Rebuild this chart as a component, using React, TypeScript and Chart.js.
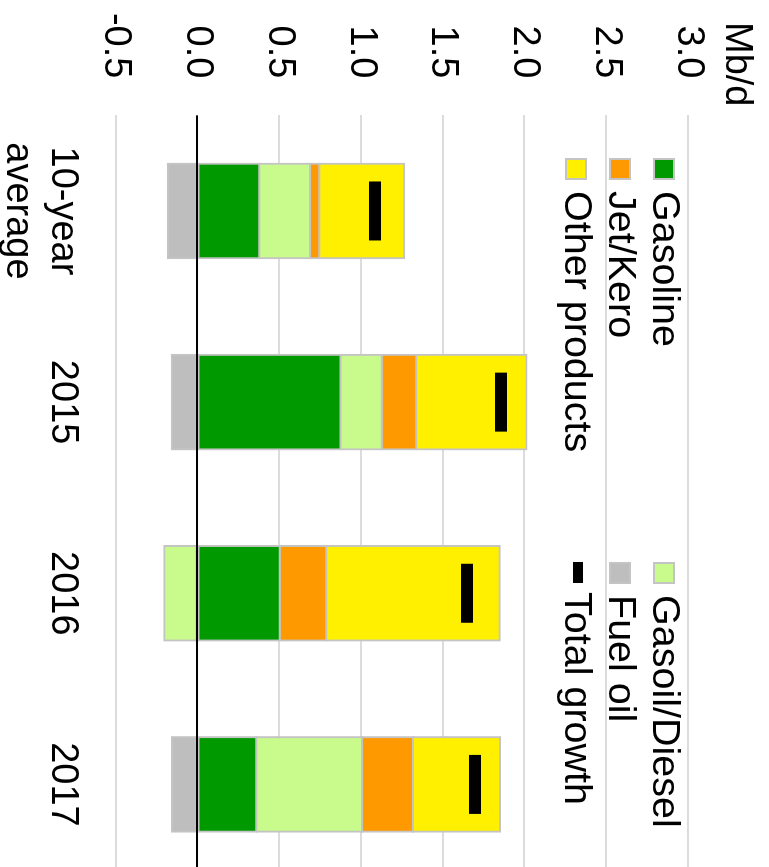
import React, { useEffect, useRef } from 'react';
import { Chart, registerables } from 'chart.js';

Chart.register(...registerables);

// ---- data ----
const categories: (string | string[])[] = [['10-year', 'average'], '2015', '2016', '2017'];
const gasoline = [0.378, 0.875, 0.503, 0.36];
const gasoilDiesel = [0.31, 0.252, -0.203, 0.646];
const jetKero = [0.057, 0.211, 0.285, 0.312];
const otherProducts = [0.52, 0.674, 1.06, 0.532];
const fuelOil = [-0.182, -0.158, null, -0.156];
const totalGrowth = [1.086, 1.856, 1.648, 1.697];
const yTicks = [-0.5, 0, 0.5, 1, 1.5, 2, 2.5, 3];
const unitLabel = 'Mb/d';
const legendRows = [
  ['Gasoline', 'Gasoil/Diesel'],
  ['Jet/Kero', 'Fuel oil'],
  ['Other products', 'Total growth'],
];

// ---- styling ----
const W = 890; // unrotated canvas width (clipped by the window)
const H = 769; // unrotated canvas height
const FONT = "'Liberation Sans', Arial, Helvetica, sans-serif";
const FS = 38;
const LFS = 39.5;
const BORDER = '#c4c4c4';
const GRID = '#dcdcdc';
const colors: Record<string, string> = {
  'Gasoline': '#009900',
  'Gasoil/Diesel': '#c8fa8c',
  'Jet/Kero': '#ff9900',
  'Other products': '#fff000',
  'Fuel oil': '#bebebe',
  'Total growth': '#000000',
};

const overlayPlugin = {
  id: 'overlay',
  afterDatasetsDraw(chart: any) {
    const { ctx, chartArea, scales } = chart;
    const y0 = Math.round(scales.y.getPixelForValue(0));
    ctx.save();
    ctx.strokeStyle = '#000';
    ctx.lineWidth = 2;
    ctx.beginPath();
    ctx.moveTo(chartArea.left, y0);
    ctx.lineTo(chartArea.right, y0);
    ctx.stroke();
    ctx.restore();
  },
  afterDraw(chart: any) {
    const { ctx } = chart;
    ctx.save();
    ctx.fillStyle = '#000';
    ctx.textBaseline = 'alphabetic';
    ctx.textAlign = 'left';
    // unit label
    ctx.font = `${FS}px ${FONT}`;
    ctx.fillText(unitLabel, 22, 43);
    // legend
    ctx.font = `${LFS}px ${FONT}`;
    const colX = [158, 562];
    const baselines = [116, 160, 204];
    legendRows.forEach((row, r) => {
      row.forEach((name, c) => {
        const bx = colX[c];
        const by = baselines[r];
        if (name === 'Total growth') {
          ctx.fillStyle = '#000';
          ctx.fillRect(bx, by - 18, 21, 10);
        } else {
          ctx.fillStyle = colors[name];
          ctx.fillRect(bx, by - 22, 22, 22);
          ctx.strokeStyle = BORDER;
          ctx.lineWidth = 2;
          ctx.strokeRect(bx + 1, by - 21, 20, 20);
        }
        ctx.fillStyle = '#000';
        ctx.fillText(name, bx + (name === 'Total growth' ? 30 : 33), by);
      });
    });
    ctx.restore();
  },
};

export default function App() {
  const ref = useRef<HTMLCanvasElement | null>(null);

  useEffect(() => {
    if (!ref.current) return;
    const bar = (label: string, data: (number | null)[]) => ({
      type: 'bar' as const,
      label,
      data,
      backgroundColor: colors[label],
      borderColor: BORDER,
      borderWidth: 2,
      borderSkipped: false,
      inflateAmount: 1,
      barPercentage: 0.495,
      categoryPercentage: 1,
      order: 1,
    });
    const chart = new Chart(ref.current, {
      type: 'bar',
      data: {
        labels: categories,
        datasets: [
          bar('Gasoline', gasoline),
          bar('Gasoil/Diesel', gasoilDiesel),
          bar('Jet/Kero', jetKero),
          bar('Other products', otherProducts),
          bar('Fuel oil', fuelOil),
          {
            type: 'line',
            label: 'Total growth',
            data: totalGrowth,
            showLine: false,
            pointStyle: 'line',
            pointRadius: 29.5,
            pointHoverRadius: 29.5,
            pointBorderWidth: 12,
            pointBorderColor: '#000',
            borderColor: '#000',
            backgroundColor: '#000',
            stack: 'total',
            order: 0,
          } as any,
        ],
      },
      options: {
        responsive: false,
        animation: false,
        events: [],
        layout: { autoPadding: false, padding: { top: 81, left: 0, right: 10, bottom: 0 } },
        plugins: {
          legend: { display: false },
          tooltip: { enabled: false },
          title: { display: false },
        },
        scales: {
          x: {
            stacked: true,
            offset: true,
            grid: { display: false },
            border: { display: false },
            ticks: {
              color: '#000',
              font: { family: FONT, size: FS },
              padding: 22,
              maxRotation: 0,
              minRotation: 0,
              autoSkip: false,
            },
            afterFit: (s: any) => {
              s.height = 115.75;
              s.paddingLeft = 0;
              s.paddingRight = 0;
            },
          },
          y: {
            stacked: true,
            min: -0.5,
            max: 3,
            afterBuildTicks: (s: any) => {
              s.ticks = yTicks.map((v) => ({ value: v }));
            },
            ticks: {
              color: '#000',
              font: { family: FONT, size: FS },
              padding: 37,
              callback: (v: any) => Number(v).toFixed(1),
            },
            grid: { color: GRID, lineWidth: 2, drawTicks: false },
            border: { display: false },
            afterFit: (s: any) => {
              s.width = 115.4;
              s.paddingTop = 0;
              s.paddingBottom = 0;
            },
          },
        },
      } as any,
      plugins: [overlayPlugin],
    });
    return () => chart.destroy();
  }, []);

  return (
    <div
      style={{
        position: 'fixed',
        left: 0,
        top: 0,
        width: 769,
        height: 867,
        overflow: 'hidden',
        background: '#fff',
      }}
    >
      <div
        style={{
          position: 'absolute',
          left: 0,
          top: 0,
          width: W,
          height: H,
          transformOrigin: '0 0',
          transform: 'translate(769px, 0px) rotate(90deg)',
        }}
      >
        <canvas ref={ref} width={W} height={H} style={{ display: 'block', width: W, height: H }} />
      </div>
    </div>
  );
}
